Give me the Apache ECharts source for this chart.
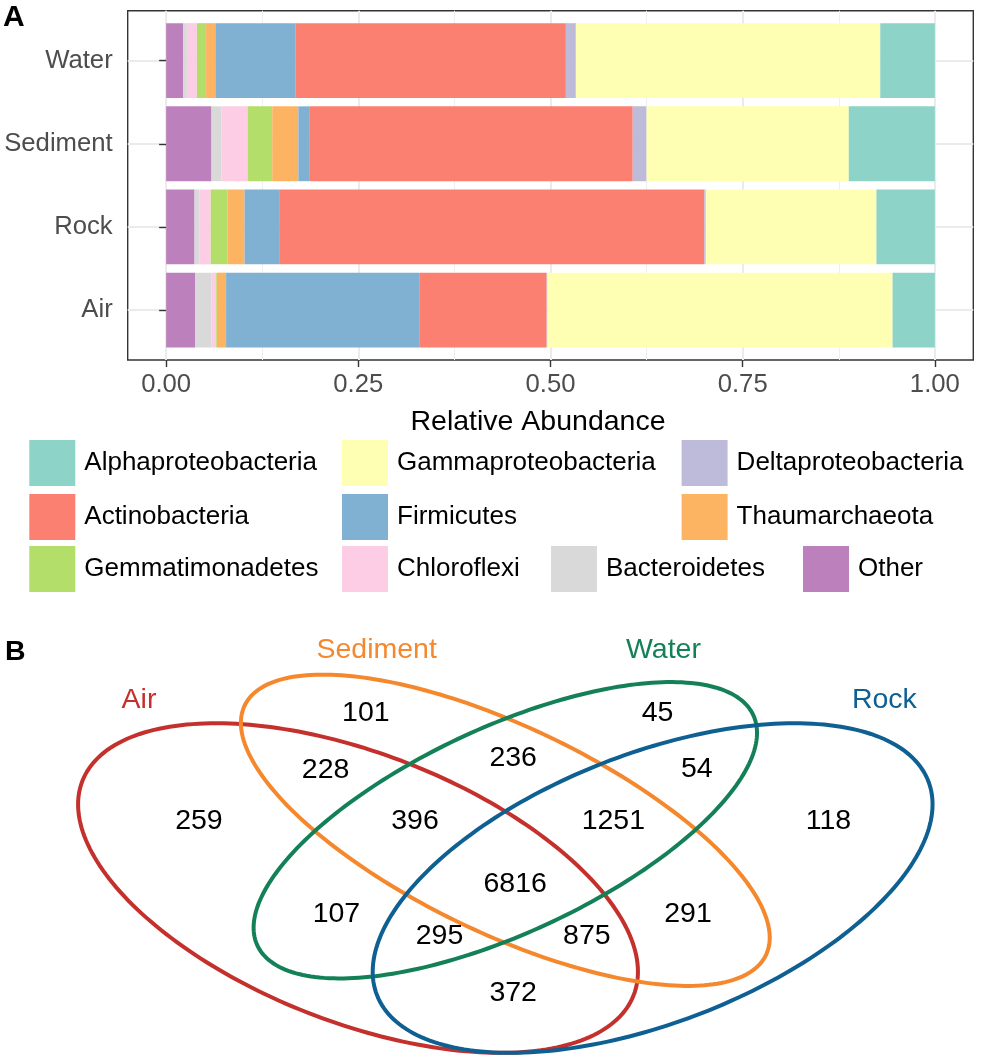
<!DOCTYPE html>
<html><head><meta charset="utf-8">
<script src="https://cdn.jsdelivr.net/npm/echarts@6/dist/echarts.min.js"></script>
<style>html,body{margin:0;padding:0;background:#fff}#c{width:981px;height:1060px}</style>
</head><body><div id="c"></div>
<script>
// ---------- Panel A data ----------
const categories = ['Air', 'Rock', 'Sediment', 'Water'];
const xTicks = [0, 0.25, 0.5, 0.75, 1];
const xTickLabels = ['0.00', '0.25', '0.50', '0.75', '1.00'];
const xMinorTicks = [0.125, 0.375, 0.625, 0.875];

// values in category order: Air, Rock, Sediment, Water
const other               = [0.038, 0.037, 0.059, 0.022];
const bacteroidetes       = [0.021, 0.006, 0.013, 0.005];
const chloroflexi         = [0.006, 0.015, 0.034, 0.013];
const gemmatimonadetes    = [0.001, 0.022, 0.032, 0.012];
const thaumarchaeota      = [0.012, 0.022, 0.034, 0.012];
const firmicutes          = [0.252, 0.045, 0.015, 0.104];
const actinobacteria      = [0.165, 0.553, 0.420, 0.352];
const deltaproteobacteria = [0.001, 0.002, 0.018, 0.013];
const gammaproteobacteria = [0.449, 0.222, 0.263, 0.396];
const alphaproteobacteria = [0.055, 0.076, 0.112, 0.071];

// ---------- Panel B data ----------
const vennSets   = ['Air', 'Sediment', 'Water', 'Rock'];
const ellipseX   = [0.35, 0.50, 0.50, 0.65];
const ellipseY   = [0.47, 0.57, 0.57, 0.47];
const ellipseA   = [0.35, 0.35, 0.33, 0.35];
const ellipseB   = [0.20, 0.15, 0.15, 0.20];
const ellipseRot = [135, 135, 45, 45];
const setLabelX  = [0.127, 0.369, 0.661, 0.886];
const setLabelY  = [0.795, 0.882, 0.882, 0.795];

const regionCounts = [259, 101, 228, 396, 107, 295, 236, 6816, 372, 45, 54, 1251, 291, 875, 118];
const regionX      = [0.188, 0.358, 0.317, 0.408, 0.328, 0.433, 0.508, 0.510, 0.508, 0.655, 0.695, 0.610, 0.686, 0.583, 0.829];
const regionY      = [0.585, 0.773, 0.674, 0.585, 0.425, 0.386, 0.694, 0.477, 0.288, 0.773, 0.675, 0.585, 0.425, 0.386, 0.585];

// ---------- styles ----------
const FONT = '"Liberation Sans", Arial, Helvetica, sans-serif';
const taxa = [
  ['Other', other], ['Bacteroidetes', bacteroidetes], ['Chloroflexi', chloroflexi],
  ['Gemmatimonadetes', gemmatimonadetes], ['Thaumarchaeota', thaumarchaeota],
  ['Firmicutes', firmicutes], ['Actinobacteria', actinobacteria],
  ['Deltaproteobacteria', deltaproteobacteria], ['Gammaproteobacteria', gammaproteobacteria],
  ['Alphaproteobacteria', alphaproteobacteria]
];
const taxonColors = {
  Alphaproteobacteria: '#8DD3C7', Gammaproteobacteria: '#FFFFB3', Deltaproteobacteria: '#BEBADA',
  Actinobacteria: '#FB8072', Firmicutes: '#80B1D3', Thaumarchaeota: '#FDB462',
  Gemmatimonadetes: '#B3DE69', Chloroflexi: '#FCCDE5', Bacteroidetes: '#D9D9D9', Other: '#BC80BD'
};
const vennColors = ['#C4302B', '#F5882D', '#148058', '#0F6092'];

// legend layout (position of each key)
const legendLayout = [
  ['Alphaproteobacteria', 29.3, 440], ['Gammaproteobacteria', 342, 440], ['Deltaproteobacteria', 681.6, 440],
  ['Actinobacteria', 29.3, 494], ['Firmicutes', 342, 494], ['Thaumarchaeota', 681.6, 494],
  ['Gemmatimonadetes', 29.3, 546], ['Chloroflexi', 342, 546], ['Bacteroidetes', 551, 546], ['Other', 803, 546]
];

const panelLeft = 127.7, panelTop = 10.7, panelW = 845.6, panelH = 349.3;
const unitH = panelH / 4.2;
const catPositions = categories.map((c, i) => i + 1);

function tickLabel(v) {
  const i = xTicks.findIndex(t => Math.abs(t - v) < 1e-9);
  return i >= 0 ? xTickLabels[i] : '';
}

const barSeries = taxa.map(([name, vals]) => ({
  type: 'bar', name: name, stack: 'total', xAxisIndex: 1, yAxisIndex: 1,
  data: vals, barWidth: '90%', itemStyle: { color: taxonColors[name] },
  emphasis: { disabled: true }, z: 3
}));

const ellipseSeries = {
  type: 'custom', xAxisIndex: 3, yAxisIndex: 2, silent: true, z: 3,
  data: vennSets.map((s, i) => [ellipseX[i], ellipseY[i], ellipseA[i], ellipseB[i], ellipseRot[i], i]),
  renderItem: function (params, api) {
    const cx = api.value(0), cy = api.value(1), a = api.value(2), b = api.value(3);
    const rot = api.value(4) * Math.PI / 180;
    const idx = api.value(5);
    const pts = [];
    const n = 240;
    for (let k = 0; k < n; k++) {
      const t = k / n * 2 * Math.PI;
      const x = cx + a * Math.cos(t) * Math.cos(rot) - b * Math.sin(t) * Math.sin(rot);
      const y = cy + a * Math.cos(t) * Math.sin(rot) + b * Math.sin(t) * Math.cos(rot);
      pts.push(api.coord([x, y]));
    }
    return { type: 'polygon', shape: { points: pts }, style: { fill: 'none', stroke: vennColors[idx], lineWidth: 4 } };
  }
};

const countSeries = {
  type: 'scatter', xAxisIndex: 3, yAxisIndex: 2, symbolSize: 0, silent: true, z: 4,
  itemStyle: { opacity: 1 },
  data: regionCounts.map((c, i) => [regionX[i], regionY[i], c]),
  label: { show: true, position: 'inside', formatter: p => String(p.value[2]),
    fontSize: 28.5, color: '#000000', opacity: 1, fontFamily: FONT },
  emphasis: { disabled: true }
};

const setNameSeries = {
  type: 'scatter', xAxisIndex: 3, yAxisIndex: 2, symbolSize: 0, silent: true, z: 4,
  itemStyle: { opacity: 1 },
  data: vennSets.map((s, i) => ({ name: s, value: [setLabelX[i], setLabelY[i]], label: { color: vennColors[i] } })),
  label: { show: true, position: 'inside', formatter: '{b}', fontSize: 28.5, opacity: 1, fontFamily: FONT },
  emphasis: { disabled: true }
};

const legends = legendLayout.map(([name, x, y]) => ({
  data: [{ name: name, icon: 'rect' }], left: x, top: y, padding: 0,
  itemWidth: 46, itemHeight: 46, selectedMode: false,
  textStyle: { fontSize: 26, color: '#000', fontFamily: FONT, padding: [0, 0, 0, 4] }
}));

const option = {
  animation: false,
  textStyle: { fontFamily: FONT },
  legend: legends,
  grid: [
    { left: panelLeft, top: panelTop, width: panelW, height: panelH, show: true,
      borderColor: '#333333', borderWidth: 1.4, backgroundColor: 'transparent', containLabel: false },
    { left: panelLeft, top: panelTop + 0.1 * unitH, width: panelW, height: 4 * unitH, containLabel: false },
    { left: 14.3, right: 4.3, top: 610.6, bottom: 4.3, containLabel: false }
  ],
  xAxis: [
    { type: 'value', gridIndex: 0, min: -0.05, max: 1.05,
      axisLine: { show: false },
      axisTick: { show: true, customValues: xTicks, length: 7, lineStyle: { color: '#333333', width: 1.4 } },
      axisLabel: { customValues: xTicks, formatter: tickLabel, fontSize: 25.7, color: '#4D4D4D', margin: 12 },
      splitLine: { show: true, lineStyle: { color: '#EBEBEB', width: 2 } } },
    { type: 'value', gridIndex: 1, min: -0.05, max: 1.05, show: false },
    { type: 'value', gridIndex: 0, min: -0.05, max: 1.05, position: 'top',
      axisLine: { show: false }, axisTick: { show: false, customValues: xMinorTicks },
      axisLabel: { show: false, customValues: xMinorTicks },
      splitLine: { show: true, lineStyle: { color: '#EFEFEF', width: 1 } } },
    { type: 'value', gridIndex: 2, min: 0, max: 0.98, show: false }
  ],
  yAxis: [
    { type: 'value', gridIndex: 0, min: 0.4, max: 4.6,
      axisLine: { show: false },
      axisTick: { show: true, customValues: catPositions, length: 7, lineStyle: { color: '#333333', width: 1.4 } },
      axisLabel: { customValues: catPositions, formatter: v => categories[Math.round(v) - 1] || '',
        fontSize: 25.7, color: '#4D4D4D', margin: 15 },
      splitLine: { show: true, lineStyle: { color: '#EBEBEB', width: 2 } } },
    { type: 'category', gridIndex: 1, data: categories, show: false },
    { type: 'value', gridIndex: 2, min: 0.18, max: 0.95, show: false }
  ],
  graphic: [
    { type: 'text', x: 3, y: 17.5, style: { text: 'A', font: 'bold 30px ' + FONT, fill: '#000', textVerticalAlign: 'middle' } },
    { type: 'text', x: 5, y: 651.7, style: { text: 'B', font: 'bold 28.5px ' + FONT, fill: '#000', textVerticalAlign: 'middle' } },
    { type: 'text', x: 538, y: 422, style: { text: 'Relative Abundance', font: '28.5px ' + FONT, fill: '#000', textAlign: 'center', textVerticalAlign: 'middle' } }
  ],
  series: barSeries.concat([ellipseSeries, countSeries, setNameSeries])
};

const chart = echarts.init(document.getElementById('c'), null, { renderer: 'canvas' });
chart.setOption(option);
</script>
</body></html>
